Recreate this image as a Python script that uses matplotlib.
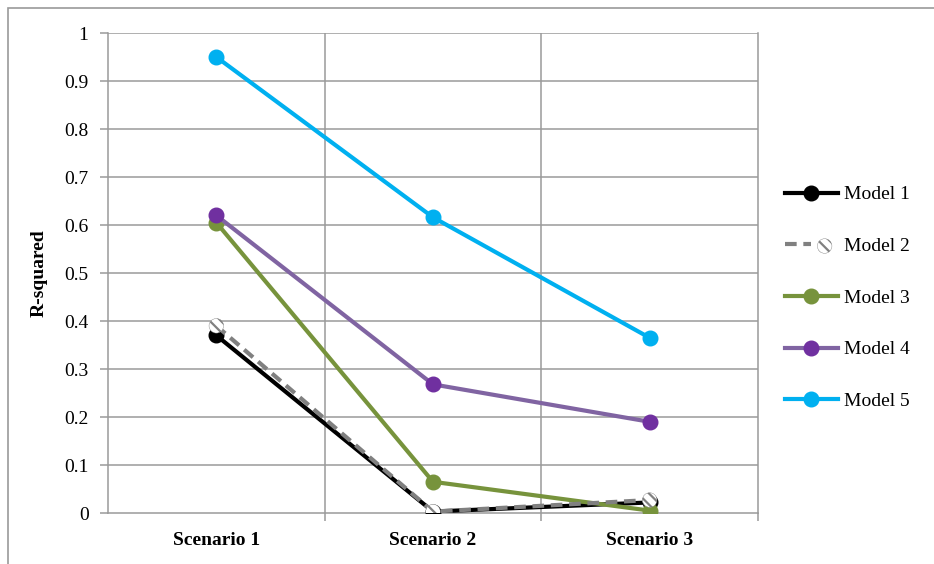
import matplotlib.pyplot as plt
from matplotlib.legend_handler import HandlerTuple
from matplotlib.patches import Rectangle

plt.rcParams['font.family'] = ['Liberation Serif', 'DejaVu Serif']
plt.rcParams['hatch.linewidth'] = 1.6

# data
scenarios = ['Scenario 1', 'Scenario 2', 'Scenario 3']
model1 = [0.37, 0.003, 0.022]
model2 = [0.39, 0.003, 0.027]
model3 = [0.605, 0.065, 0.005]
model4 = [0.62, 0.268, 0.19]
model5 = [0.95, 0.616, 0.365]
yticks = [0, 0.1, 0.2, 0.3, 0.4, 0.5, 0.6, 0.7, 0.8, 0.9, 1]
ytick_labels = ['0', '0.1', '0.2', '0.3', '0.4', '0.5', '0.6', '0.7', '0.8', '0.9', '1']

fig = plt.figure(figsize=(9.34, 5.64), dpi=100)
ax = fig.add_axes([108 / 934, 1 - 513 / 564, 650 / 934, 480 / 564])

# outer chart border (only top/left visible)
fig.patches.append(Rectangle((8 / 934, -0.1), 1.2, 1.1 - 8 / 564, transform=fig.transFigure,
                             fill=False, edgecolor='#9a9a9a', linewidth=1.2))

x = [1, 2, 3]
grid_c = '#9a9a9a'
for y in yticks[1:]:
    ax.axhline(y, color=grid_c, linewidth=1.1, zorder=1)
for xv in [1.5, 2.5]:
    ax.axvline(xv, color=grid_c, linewidth=1.1, zorder=1)

lw = 3.0
ms = 10.5
l1, = ax.plot(x, model1, color='black', linewidth=lw, marker='o', markersize=ms, zorder=3)
l2, = ax.plot(x, model2, color='#808080', linewidth=lw, dashes=(2.8, 1.6), zorder=4)
s2 = ax.scatter(x, model2, s=ms ** 2, facecolor='white', edgecolors='#808080', linewidths=0.3,
                hatch='\\\\\\', zorder=5)
l3, = ax.plot(x, model3, color='#77933C', linewidth=lw, marker='o', markersize=ms, zorder=3)
l4, = ax.plot(x, model4, color='#8064A2', linewidth=lw, marker='o', markersize=ms,
              markerfacecolor='#7030A0', markeredgecolor='#7030A0', zorder=3)
l5, = ax.plot(x, model5, color='#00B0F0', linewidth=lw, marker='o', markersize=ms, zorder=3)

ax.set_xlim(0.5, 3.5)
ax.set_ylim(0, 1)
ax.set_xticks(x)
ax.set_xticklabels(scenarios, fontsize=14, fontweight='bold')
ax.set_xticks([1.5, 2.5, 3.5], minor=True)
ax.tick_params(axis='x', which='major', length=0, pad=14)
ax.tick_params(axis='x', which='minor', length=6, color=grid_c, width=1.1)
ax.set_yticks(yticks)
ax.set_yticklabels(ytick_labels, fontsize=14)
ax.tick_params(axis='y', length=6, color=grid_c, width=1.1, pad=8)
ax.set_ylabel('R-squared', fontsize=14, fontweight='bold', labelpad=12)

for side in ['left', 'bottom', 'right']:
    ax.spines[side].set_color(grid_c)
    ax.spines[side].set_linewidth(1.1)
ax.spines['top'].set_visible(False)

leg = ax.legend([l1, (l2, s2), l3, l4, l5], ['Model 1', 'Model 2', 'Model 3', 'Model 4', 'Model 5'],
                handler_map={tuple: HandlerTuple(ndivide=None, pad=0)},
                loc='center left', bbox_to_anchor=(1.015, 0.448), frameon=False,
                fontsize=14, labelspacing=1.75, handlelength=2.7, handletextpad=0.3)

fig.savefig('out.png', dpi=100)
